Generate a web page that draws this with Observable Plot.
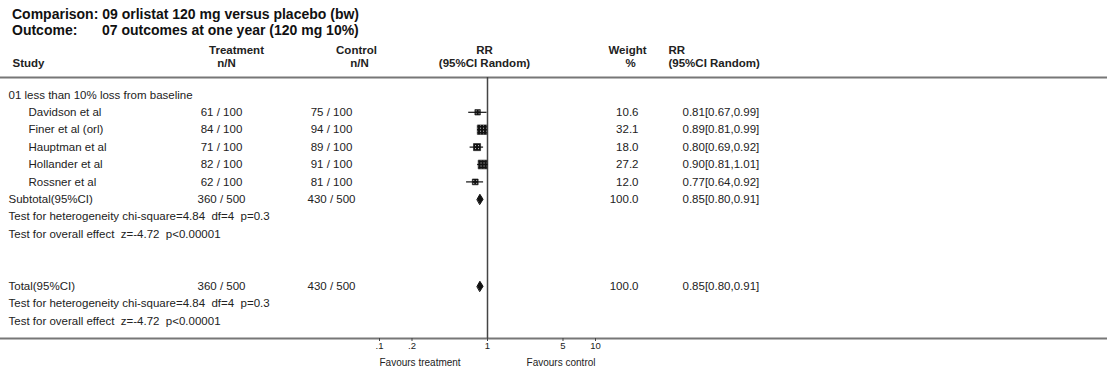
<!DOCTYPE html>
<html>
<head>
<meta charset="utf-8">
<script src="https://cdn.jsdelivr.net/npm/d3@7"></script>
<script src="https://cdn.jsdelivr.net/npm/@observablehq/plot@0.6"></script>
<style>
  html, body { margin: 0; padding: 0; background: #fff; }
  #title { font: bold 14px "Liberation Sans", Arial, sans-serif; color: #111; box-sizing: border-box; height: 35px; padding: 6px 0 0 12px; line-height: 16px; white-space: nowrap; overflow: visible; }
  #title .lab { display: inline-block; width: 90px; }
  svg { display: block; }
</style>
</head>
<body>
<div id="title">
  <div>Comparison: 09 orlistat 120 mg versus placebo (bw)</div>
  <div><span class="lab">Outcome:</span>07 outcomes at one year (120 mg 10%)</div>
</div>
<div id="chart"></div>
<script>
// ---- data ----
const groupLabel = "01 less than 10% loss from baseline";
const studies = ["Davidson et al", "Finer et al (orl)", "Hauptman et al", "Hollander et al", "Rossner et al"];
const treatEvents = [61, 84, 71, 82, 62];
const treatTotal = [100, 100, 100, 100, 100];
const ctrlEvents = [75, 94, 89, 91, 81];
const ctrlTotal = [100, 100, 100, 100, 100];
const weights = [10.6, 32.1, 18.0, 27.2, 12.0];
const rr = [0.81, 0.89, 0.80, 0.90, 0.77];
const rrLow = [0.67, 0.81, 0.69, 0.81, 0.64];
const rrHigh = [0.99, 0.99, 0.92, 1.01, 0.92];

const pooledLabels = ["Subtotal(95%CI)", "Total(95%CI)"];
const pooledTreat = [[360, 500], [360, 500]];
const pooledCtrl = [[430, 500], [430, 500]];
const pooledWeight = [100.0, 100.0];
const pooledRR = [0.85, 0.85];
const pooledLow = [0.80, 0.80];
const pooledHigh = [0.91, 0.91];
const heterogeneityText = "Test for heterogeneity chi-square=4.84  df=4  p=0.3";
const overallText = "Test for overall effect  z=-4.72  p<0.00001";

const tickValues = [0.1, 0.2, 1, 5, 10];
const tickLabels = [".1", ".2", "1", "5", "10"];
const favourLabels = ["Favours treatment", "Favours control"];

// ---- table layout (row indices) ----
const studyRows = studies.map((s, i) => ({
  row: 1 + i, name: s,
  treat: `${treatEvents[i]} / ${treatTotal[i]}`,
  ctrl: `${ctrlEvents[i]} / ${ctrlTotal[i]}`,
  weight: weights[i].toFixed(1),
  rrText: `${rr[i].toFixed(2)}[${rrLow[i].toFixed(2)},${rrHigh[i].toFixed(2)}]`,
  est: rr[i], lo: rrLow[i], hi: rrHigh[i], w: weights[i]
}));
const pooledStart = [6, 11];
const pooledRows = pooledLabels.map((s, i) => ({
  row: pooledStart[i], name: s,
  treat: `${pooledTreat[i][0]} / ${pooledTreat[i][1]}`,
  ctrl: `${pooledCtrl[i][0]} / ${pooledCtrl[i][1]}`,
  weight: pooledWeight[i].toFixed(1),
  rrText: `${pooledRR[i].toFixed(2)}[${pooledLow[i].toFixed(2)},${pooledHigh[i].toFixed(2)}]`,
  est: pooledRR[i], lo: pooledLow[i], hi: pooledHigh[i]
}));
const leftRows = [{row: 0, text: groupLabel}]
  .concat(pooledRows.map(d => ({row: d.row, text: d.name})))
  .concat(pooledStart.flatMap(r => [{row: r + 1, text: heterogeneityText}, {row: r + 2, text: overallText}]));

const diamondH = 0.29;
const diamonds = pooledRows.flatMap((d, k) => [
  {k, x: d.lo, y: d.row}, {k, x: d.est, y: d.row - diamondH},
  {k, x: d.hi, y: d.row}, {k, x: d.est, y: d.row + diamondH}
]);

const hdr1 = -2.59, hdr2 = -1.84;
const font = "Liberation Sans, Arial, sans-serif";
const allRows = studyRows.concat(pooledRows);
const H = {fontWeight: "bold", fontSize: 11.5};

const chart = Plot.plot({
  width: 1107, height: 334,
  marginLeft: 0, marginRight: 0, marginTop: 0, marginBottom: 31,
  x: {type: "log", domain: [0.1, 10], range: [379, 595]},
  y: {domain: [-1, 14], range: [42, 303], axis: null},
  r: {type: "sqrt", domain: [0, 32.1], range: [0, 5.35]},
  style: {fontFamily: font, fontSize: "11.5px", color: "#222", background: "#fff"},
  marks: [
    Plot.ruleY([-1], {stroke: "#777", strokeWidth: 2}),
    Plot.ruleY([14], {stroke: "#777", strokeWidth: 2}),
    Plot.ruleX([1], {y1: -1, y2: 14, stroke: "#444", strokeWidth: 1.5}),
    Plot.axisX({anchor: "bottom", ticks: tickValues, tickFormat: d => tickLabels[tickValues.indexOf(d)], tickSize: 3, tickPadding: 1, fontSize: 9.5, label: null, stroke: "#444"}),
    Plot.text([favourLabels[0]], {x: () => tickValues[0], y: () => 14, dy: 24, textAnchor: "start", fontSize: 10}),
    Plot.text([favourLabels[1]], {x: () => tickValues[tickValues.length - 1], y: () => 14, dy: 24, textAnchor: "end", fontSize: 10}),
    Plot.text(["Study"], {frameAnchor: "left", y: () => hdr2, dx: 12, textAnchor: "start", ...H}),
    Plot.text(["Treatment"], {frameAnchor: "left", y: () => hdr1, dx: 236, textAnchor: "middle", ...H}),
    Plot.text(["n/N"], {frameAnchor: "left", y: () => hdr2, dx: 226, textAnchor: "middle", ...H}),
    Plot.text(["Control"], {frameAnchor: "left", y: () => hdr1, dx: 356, textAnchor: "middle", ...H}),
    Plot.text(["n/N"], {frameAnchor: "left", y: () => hdr2, dx: 359, textAnchor: "middle", ...H}),
    Plot.text(["RR"], {frameAnchor: "left", y: () => hdr1, dx: 484, textAnchor: "middle", ...H}),
    Plot.text(["(95%CI Random)"], {frameAnchor: "left", y: () => hdr2, dx: 484, textAnchor: "middle", ...H}),
    Plot.text(["Weight"], {frameAnchor: "left", y: () => hdr1, dx: 627, textAnchor: "middle", ...H}),
    Plot.text(["%"], {frameAnchor: "left", y: () => hdr2, dx: 630, textAnchor: "middle", ...H}),
    Plot.text(["RR"], {frameAnchor: "left", y: () => hdr1, dx: 668, textAnchor: "start", ...H}),
    Plot.text(["(95%CI Random)"], {frameAnchor: "left", y: () => hdr2, dx: 668, textAnchor: "start", ...H}),
    Plot.text(leftRows, {frameAnchor: "left", y: "row", text: "text", dx: 8, textAnchor: "start"}),
    Plot.text(studyRows, {frameAnchor: "left", y: "row", text: "name", dx: 28, textAnchor: "start"}),
    Plot.text(allRows, {frameAnchor: "left", y: "row", text: "treat", dx: 221, textAnchor: "middle"}),
    Plot.text(allRows, {frameAnchor: "left", y: "row", text: "ctrl", dx: 331, textAnchor: "middle"}),
    Plot.text(allRows, {frameAnchor: "left", y: "row", text: "weight", dx: 638, textAnchor: "end"}),
    Plot.text(allRows, {frameAnchor: "left", y: "row", text: "rrText", dx: 682, textAnchor: "start"}),
    Plot.ruleY(studyRows, {y: "row", x1: "lo", x2: "hi", stroke: "#111", strokeWidth: 1.2}),
    Plot.dot(studyRows, {x: "est", y: "row", r: "w", symbol: "square", fill: "url(#speckle)", stroke: "#111", strokeWidth: 0.6}),
    Plot.line(diamonds, {x: "x", y: "y", z: "k", curve: "linear-closed", fill: "#111", stroke: "#111", strokeWidth: 1})
  ]
});

const ns = "http://www.w3.org/2000/svg";
const defs = document.createElementNS(ns, "defs");
defs.innerHTML = '<pattern id="speckle" width="3" height="3" patternUnits="userSpaceOnUse"><rect width="3" height="3" fill="#111"/><rect x="1" y="1" width="1" height="1" fill="#ccc"/></pattern>';
chart.insertBefore(defs, chart.firstChild);

document.getElementById("chart").appendChild(chart);
</script>
</body>
</html>
